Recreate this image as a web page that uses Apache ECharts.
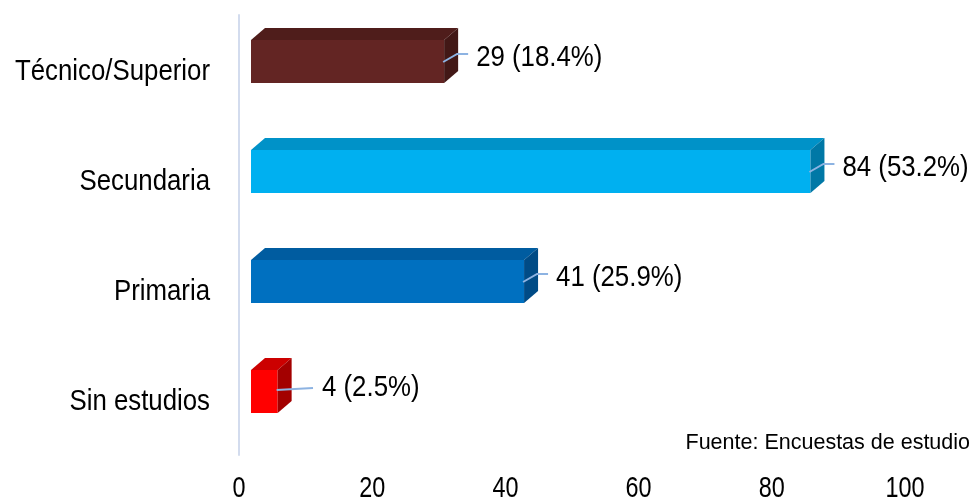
<!DOCTYPE html>
<html><head><meta charset="utf-8">
<script src="https://cdn.jsdelivr.net/npm/echarts@6/dist/echarts.min.js"></script>
<style>html,body{margin:0;padding:0;background:#fff}#c{width:975px;height:502px}</style>
</head><body><div id="c"></div>
<script>
var categories = ['Técnico/Superior', 'Secundaria', 'Primaria', 'Sin estudios'];
var values = [29, 84, 41, 4];
var percents = ['18.4%', '53.2%', '25.9%', '2.5%'];
var xTicks = [0, 20, 40, 60, 80, 100];
var frontColors = ['#632523', '#00b0f0', '#0070c0', '#ff0000'];
var topColors = ['#4f1d1b', '#0092c8', '#005ca0', '#cc0000'];
var sideColors = ['#421816', '#0078a6', '#004b86', '#a30000'];
var source = 'Fuente: Encuestas de estudio';

var FONT = '"Liberation Sans", Arial, sans-serif';
var chart = echarts.init(document.getElementById('c'));
var barData = values.map(function (v, i) { return [v, i]; });
var tickData = xTicks.map(function (t) { return [t, categories.length - 1]; });

function narrowText(x, y, text, size, sx, align) {
  return {
    type: 'text', x: x, y: y, scaleX: sx, scaleY: 1,
    style: { x: 0, y: 0, text: text, font: size + 'px ' + FONT, fill: '#000', align: align, verticalAlign: 'middle' }
  };
}

chart.setOption({
  animation: false,
  grid: { left: 239, right: 70, top: 15, bottom: 47 },
  xAxis: {
    type: 'value', min: xTicks[0], max: xTicks[xTicks.length - 1], interval: 20,
    axisLine: { show: false }, axisTick: { show: false }, splitLine: { show: false },
    axisLabel: { show: false }
  },
  yAxis: {
    type: 'category', data: categories, inverse: true,
    axisLine: { show: true, lineStyle: { color: '#d3dcee', width: 2 } },
    axisTick: { show: false },
    axisLabel: { show: false }
  },
  graphic: [{
    type: 'text', right: 5, top: 432,
    style: { text: source, font: '21.5px ' + FONT, fill: '#000' }
  }],
  series: [{
    type: 'custom',
    data: barData,
    encode: { x: 0, y: 1 },
    renderItem: function (params, api) {
      var i = api.value(1);
      var p0 = api.coord([0, i]);
      var p1 = api.coord([api.value(0), i]);
      var cy = p0[1];
      var shift = 12, dx = 14, dy = 12;
      var L = p0[0] + shift, R = p1[0] + shift;
      var T = cy - 30, B = cy + 13;
      var idx = params.dataIndex;
      var labelX = Math.max(R + 32, L + 71);
      var leader = (labelX > R + 32)
        ? [[R - 1, cy - 10], [labelX - 9, cy - 12]]
        : [[R - 1, cy - 8], [R + 13, cy - 16], [R + 24, cy - 16]];
      return {
        type: 'group',
        children: [
          { type: 'rect', shape: { x: L, y: T, width: R - L, height: B - T }, style: { fill: frontColors[idx] } },
          { type: 'polygon', shape: { points: [[L, T], [L + dx, T - dy], [R + dx, T - dy], [R, T]] }, style: { fill: topColors[idx] } },
          { type: 'polygon', shape: { points: [[R, T], [R + dx, T - dy], [R + dx, B - dy], [R, B]] }, style: { fill: sideColors[idx] } },
          { type: 'polyline', shape: { points: leader }, style: { stroke: '#8db3e2', lineWidth: 2, fill: null } },
          narrowText(labelX, cy - 12, api.value(0) + ' (' + percents[idx] + ')', 30, 0.86, 'left'),
          narrowText(p0[0] - 29, cy + 2, categories[idx], 30, 0.86, 'right')
        ]
      };
    }
  }, {
    type: 'custom',
    data: tickData,
    encode: { x: 0, y: 1 },
    renderItem: function (params, api) {
      var p = api.coord([api.value(0), api.value(1)]);
      var band = api.size([0, 1])[1];
      return narrowText(p[0], p[1] + band / 2 + 34, String(api.value(0)), 30, 0.78, 'center');
    }
  }]
});
</script></body></html>
